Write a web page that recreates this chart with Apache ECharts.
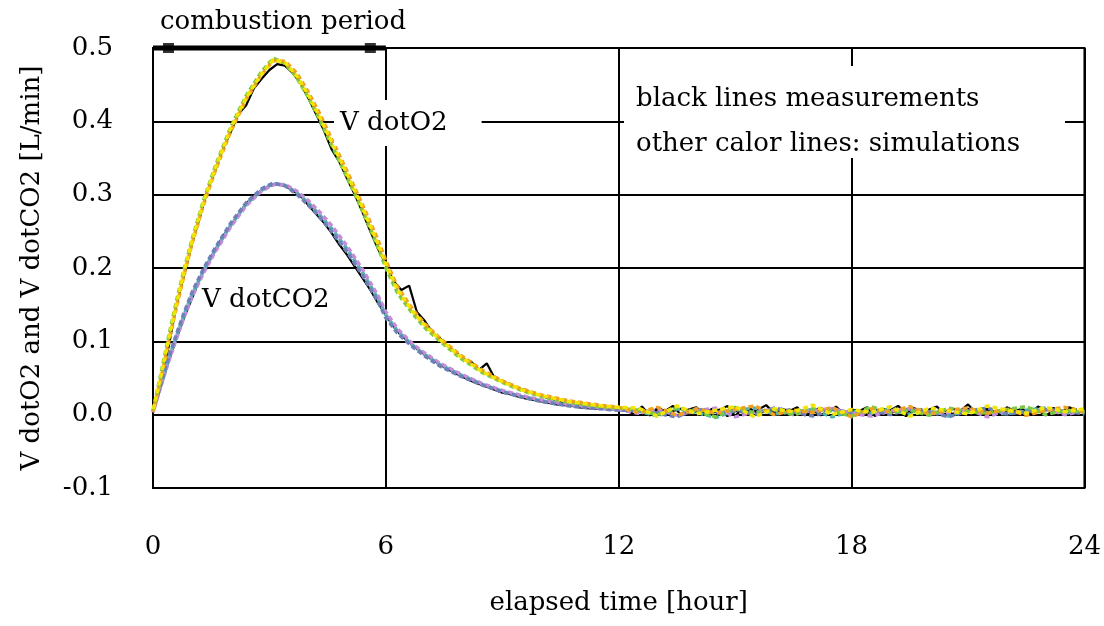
<!DOCTYPE html>
<html>
<head>
<meta charset="utf-8">
<script src="https://cdn.jsdelivr.net/npm/echarts@6/dist/echarts.min.js"></script>
<style>
html,body{margin:0;padding:0;background:#fff;}
#chart{width:1104px;height:626px;}
</style>
</head>
<body>
<div id="chart"></div>
<script>
// ---- tick values ----
const xTicks = [0, 6, 12, 18, 24];
const yTicks = [-0.1, 0.0, 0.1, 0.2, 0.3, 0.4, 0.5];

// ---- measurement time base (hours) ----
const measT = [0,0.2,0.4,0.6,0.8,1.0,1.2,1.4,1.6,1.8,2.0,2.2,2.4,2.6,2.8,3.0,3.2,3.4,3.6,3.8,
  4.0,4.2,4.4,4.6,4.8,5.0,5.2,5.4,5.6,5.8,6.0,6.2,6.4,6.6,6.8,7.0,7.2,7.4,7.6,7.8,
  8.0,8.2,8.4,8.6,8.8,9.0,9.2,9.4,9.6,9.8,10.0,10.2,10.4,10.6,10.8,11.0,11.2,11.4,11.6,11.8,12.0,
  12.2,12.4,12.6,12.8,13.0,13.2,13.4,13.6,13.8,14.0,14.2,14.4,14.6,14.8,15.0,15.2,15.4,15.6,15.8,16.0,
  16.2,16.4,16.6,16.8,17.0,17.2,17.4,17.6,17.8,18.0,18.2,18.4,18.6,18.8,19.0,19.2,19.4,19.6,19.8,20.0,
  20.2,20.4,20.6,20.8,21.0,21.2,21.4,21.6,21.8,22.0,22.2,22.4,22.6,22.8,23.0,23.2,23.4,23.6,23.8,24.0];

// measured V dotO2 (black)
const o2Measured = [0.005,0.045,0.092,0.148,0.190,0.232,0.268,0.305,0.332,0.362,0.385,0.410,0.422,0.445,0.458,0.470,0.478,0.476,0.466,0.452,
  0.432,0.410,0.388,0.362,0.345,0.322,0.300,0.276,0.250,0.226,0.205,0.182,0.170,0.176,0.140,0.128,0.112,0.104,0.093,0.085,
  0.076,0.072,0.061,0.070,0.050,0.046,0.041,0.036,0.034,0.028,0.026,0.022,0.020,0.016,0.018,0.013,0.012,0.010,0.011,0.008,0.009,
  0.008,0.002,0.011,-0.001,0.009,0.005,0.012,0.000,0.007,0.010,
  0.001,0.008,0.006,0.012,-0.002,0.009,0.004,0.007,0.013,0.002,
  0.008,0.005,0.010,-0.001,0.006,0.009,0.003,0.011,0.001,0.007,
  0.005,0.010,-0.002,0.008,0.006,0.012,0.002,0.009,0.004,0.007,
  0.011,0.000,0.008,0.005,0.014,0.003,0.009,0.006,0.001,0.010,
  0.005,0.008,0.001,0.011,0.006,0.009,0.003,0.010,0.007];

// measured V dotCO2 (black)
const co2Measured = [0.004,0.038,0.072,0.103,0.132,0.158,0.185,0.205,0.224,0.243,0.258,0.272,0.288,0.298,0.306,0.312,0.314,0.312,0.306,0.298,
  0.286,0.274,0.262,0.248,0.232,0.218,0.202,0.186,0.170,0.152,0.136,0.120,0.108,0.099,0.090,0.082,0.075,0.068,0.062,0.056,
  0.051,0.046,0.042,0.038,0.034,0.030,0.028,0.025,0.022,0.020,0.018,0.016,0.014,0.013,0.012,0.010,0.009,0.008,0.008,0.007,0.006,
  0.005,0.001,0.007,0.003,0.006,-0.001,0.005,0.008,0.002,0.004,
  0.006,0.002,0.007,-0.002,0.005,0.004,0.008,0.001,0.006,0.003,
  0.005,0.007,0.001,0.004,0.006,-0.001,0.005,0.008,0.003,0.004,
  0.006,0.001,0.007,0.004,0.002,0.006,-0.002,0.005,0.007,0.003,
  0.004,0.006,0.001,0.005,0.008,0.002,0.004,0.006,0.000,0.005,
  0.007,0.003,0.004,0.006,-0.001,0.005,0.004,0.006,0.003];

// ---- simulation time base (hours) ----
const simT = [0,0.2,0.4,0.6,0.8,1.0,1.3,1.6,2.0,2.4,2.8,3.1,3.4,3.7,4.0,4.3,4.6,5.0,5.4,5.8,
  6.0,6.3,6.7,7.0,7.4,7.9,8.5,9.0,9.5,10,10.7,11.5,12,
  12.5,13,13.5,14,14.5,15,15.5,16,16.5,17,17.5,18,18.5,19,19.5,20,20.5,21,21.5,22,22.5,23,23.5,24];

// simulated V dotO2 (coloured)
const o2SimYellow = [0.005,0.052,0.102,0.150,0.195,0.235,0.290,0.335,0.390,0.432,0.465,0.484,0.480,0.462,0.436,0.405,0.372,0.328,0.282,0.232,
  0.205,0.170,0.140,0.122,0.102,0.080,0.058,0.045,0.034,0.026,0.018,0.012,0.010,
  0.009,-0.002,0.012,0.001,0.006,0.011,-0.003,0.008,0.004,0.013,0.000,0.007,0.003,0.011,-0.002,0.009,0.005,0.001,0.012,0.006,0.002,0.010,0.004,0.008];
const o2SimOrange = [0.004,0.048,0.098,0.146,0.190,0.232,0.286,0.332,0.386,0.430,0.464,0.483,0.482,0.466,0.440,0.410,0.376,0.332,0.286,0.238,
  0.210,0.174,0.143,0.124,0.104,0.082,0.060,0.046,0.035,0.027,0.019,0.013,0.010,
  0.003,0.010,-0.001,0.008,0.002,0.007,0.012,0.000,0.006,0.003,0.010,-0.003,0.008,0.004,0.011,0.001,0.006,0.009,0.002,0.008,-0.001,0.006,0.010,0.004];
const o2SimGreen = [0.006,0.055,0.106,0.154,0.198,0.238,0.292,0.338,0.392,0.435,0.468,0.486,0.479,0.460,0.433,0.402,0.368,0.324,0.278,0.228,
  0.200,0.166,0.137,0.119,0.100,0.078,0.057,0.044,0.033,0.025,0.017,0.011,0.009,
  0.006,0.000,0.009,0.004,-0.003,0.010,0.002,0.007,0.000,0.008,0.005,-0.002,0.011,0.003,0.006,-0.001,0.009,0.004,0.002,0.007,0.011,0.000,0.006,0.003];

// simulated V dotCO2 (coloured)
const co2SimCyan = [0.004,0.040,0.075,0.106,0.136,0.163,0.196,0.224,0.258,0.287,0.306,0.315,0.313,0.303,0.289,0.272,0.254,0.226,0.194,0.158,
  0.136,0.114,0.094,0.082,0.068,0.055,0.041,0.032,0.025,0.019,0.013,0.009,0.007,
  0.005,-0.002,0.008,0.003,-0.004,0.006,0.009,0.001,0.004,0.007,-0.003,0.005,0.002,0.008,0.000,0.006,-0.002,0.007,0.003,0.001,0.006,0.009,0.002,0.005];
const co2SimViolet = [0.003,0.038,0.072,0.103,0.133,0.160,0.193,0.222,0.256,0.285,0.305,0.314,0.314,0.305,0.292,0.276,0.258,0.230,0.198,0.162,
  0.140,0.117,0.096,0.084,0.070,0.056,0.042,0.033,0.026,0.020,0.014,0.009,0.007,
  0.002,0.007,-0.001,0.005,0.009,-0.003,0.004,0.007,0.000,0.006,0.008,0.002,-0.002,0.005,0.008,0.001,0.003,0.007,-0.003,0.006,0.002,0.008,0.000,0.005];
const co2SimBlue = [0.005,0.042,0.078,0.109,0.139,0.166,0.199,0.227,0.261,0.289,0.308,0.316,0.312,0.301,0.286,0.269,0.250,0.222,0.190,0.154,
  0.132,0.111,0.092,0.080,0.066,0.053,0.040,0.031,0.024,0.018,0.012,0.008,0.006,
  0.007,0.002,-0.003,0.008,0.003,0.006,0.000,0.009,0.004,-0.002,0.007,0.003,0.006,0.000,0.008,0.004,-0.003,0.005,0.009,0.001,0.004,0.007,0.005,0.001];

// combustion period bracket
const combustionSpan = [0, 6];
const combustionLevel = 0.5;
const combustionMarks = [0.4, 5.6];

// texts
const xTitle = 'elapsed time [hour]';
const yTitle = 'V dotO2 and V dotCO2 [L/min]';
const combustionText = 'combustion period';
const o2Label = 'V dotO2';
const co2Label = 'V dotCO2';
const noteLines = ['black lines measurements', 'other calor lines: simulations'];

// ---- build ----
const pair = (ts, vs) => ts.map((t, i) => [t, vs[i]]);
const FONT = 'DejaVu Serif';
const FS = 26;

function simSeries(name, ts, vs, color, offset) {
  return {
    name, type: 'line', data: pair(ts, vs), showSymbol: false, smooth: false,
    lineStyle: { color, width: 3.5, type: [5, 3], dashOffset: offset },
    silent: true, z: 3
  };
}

const chart = echarts.init(document.getElementById('chart'), null, { renderer: 'canvas' });
chart.setOption({
  animation: false,
  backgroundColor: '#ffffff',
  grid: { left: 153, right: 19, top: 48, bottom: 138, show: true, borderColor: '#000', borderWidth: 2, backgroundColor: 'transparent' },
  xAxis: {
    type: 'value', min: xTicks[0], max: xTicks[xTicks.length - 1], interval: 6,
    name: xTitle, nameLocation: 'middle', nameGap: 102,
    nameTextStyle: { fontFamily: FONT, fontSize: FS, color: '#000' },
    axisLine: { show: true, lineStyle: { color: '#000', width: 2 } },
    axisTick: { show: false },
    axisLabel: { margin: 46, fontFamily: FONT, fontSize: FS, color: '#000',
      formatter: v => xTicks.includes(v) ? String(v) : '' },
    splitLine: { show: true, lineStyle: { color: '#000', width: 2 } }
  },
  yAxis: {
    type: 'value', min: yTicks[0], max: yTicks[yTicks.length - 1], interval: 0.1,
    name: yTitle, nameLocation: 'middle', nameGap: 108, nameRotate: 90,
    nameTextStyle: { fontFamily: FONT, fontSize: FS, color: '#000' },
    axisLine: { show: true, lineStyle: { color: '#000', width: 2 } },
    axisTick: { show: false },
    axisLabel: { margin: 40, fontFamily: FONT, fontSize: FS, color: '#000',
      formatter: v => v.toFixed(1) },
    splitLine: { show: true, lineStyle: { color: '#000', width: 2 } }
  },
  series: [
    { name: 'O2 measured', type: 'line', data: pair(measT, o2Measured), showSymbol: false,
      lineStyle: { color: '#000', width: 2.2 }, z: 2, silent: true },
    { name: 'CO2 measured', type: 'line', data: pair(measT, co2Measured), showSymbol: false,
      lineStyle: { color: '#000', width: 2.2 }, z: 2, silent: true },
    simSeries('CO2 sim cyan', simT, co2SimCyan, '#4fb3b3', 0),
    simSeries('CO2 sim violet', simT, co2SimViolet, '#c58bd8', 3),
    simSeries('CO2 sim blue', simT, co2SimBlue, '#6f7fb8', 6),
    simSeries('O2 sim green', simT, o2SimGreen, '#7ac943', 0),
    simSeries('O2 sim orange', simT, o2SimOrange, '#f0a020', 3),
    simSeries('O2 sim yellow', simT, o2SimYellow, '#f2e600', 6),
    { name: 'combustion period', type: 'line', clip: false, showSymbol: false,
      data: combustionSpan.map(t => [t, combustionLevel]),
      lineStyle: { color: '#000', width: 5 }, z: 6, silent: true },
    { name: 'combustion marks', type: 'scatter', clip: false, symbol: 'rect', symbolSize: [11, 10],
      data: combustionMarks.map(t => [t, combustionLevel]),
      itemStyle: { color: '#000' }, z: 7, silent: true }
  ],
  graphic: [
    { type: 'text', left: 160, top: 9, z: 100,
      style: { text: combustionText, font: `${FS}px "${FONT}"`, fill: '#000' } },
    { type: 'text', left: 334, top: 100, z: 100,
      style: { text: o2Label, font: `${FS}px "${FONT}"`, fill: '#000', backgroundColor: '#fff', padding: [10, 34, 10, 6] } },
    { type: 'text', left: 200, top: 285, z: 100,
      style: { text: co2Label, font: `${FS}px "${FONT}"`, fill: '#000', backgroundColor: '#fff', padding: [2, 2, 2, 2] } },
    { type: 'rect', left: 624, top: 66, z: 99, shape: { width: 441, height: 92 }, style: { fill: '#fff' } },
    { type: 'text', left: 636, top: 86, z: 100,
      style: { text: noteLines[0], font: `${FS}px "${FONT}"`, fill: '#000' } },
    { type: 'text', left: 636, top: 131, z: 100,
      style: { text: noteLines[1], font: `${FS}px "${FONT}"`, fill: '#000' } }
  ]
});
</script>
</body>
</html>
